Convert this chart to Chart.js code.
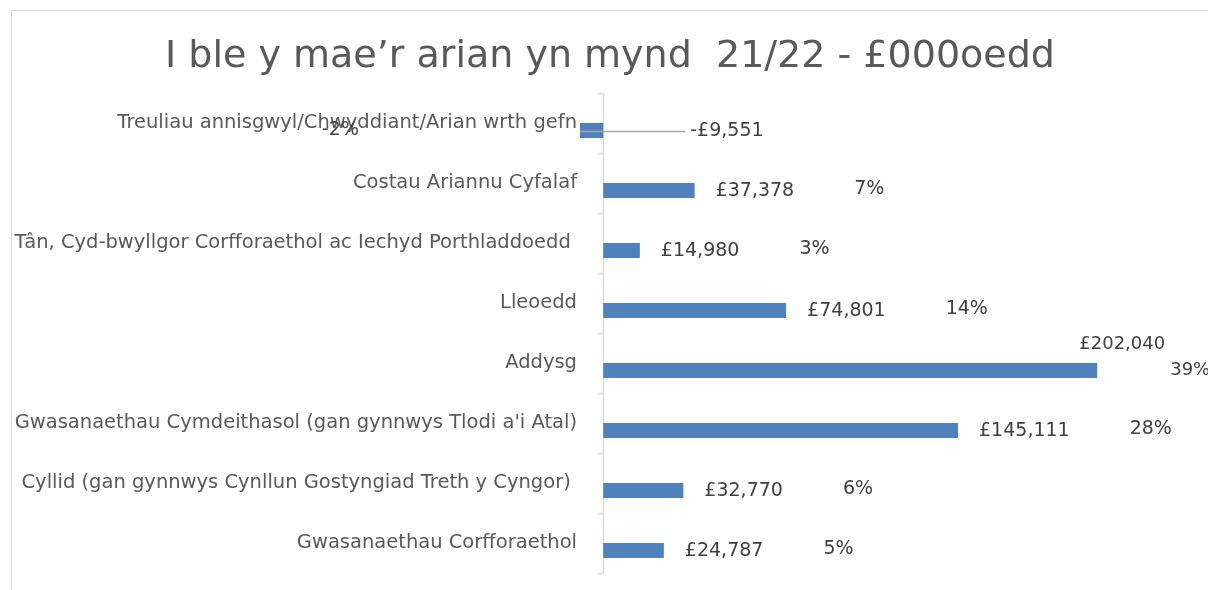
<!DOCTYPE html>
<html>
<head>
<meta charset="utf-8">
<script src="https://cdn.jsdelivr.net/npm/chart.js@4.4.0/dist/chart.umd.min.js"></script>
<style>
html, body { margin: 0; padding: 0; background: #fff; overflow: hidden; }
#frame { position: absolute; left: 11px; top: 10px; width: 1400px; height: 800px;
         border-top: 1px solid #d9d9d9; border-left: 1px solid #d9d9d9; }
#wrap { position: absolute; left: 0; top: 0; width: 1208px; height: 590px; }
</style>
</head>
<body>
<div id="frame"></div>
<div id="wrap"><canvas id="myChart" width="1208" height="590"></canvas></div>
<script>
// categories, top to bottom
var categories = [
  'Treuliau annisgwyl/Chwyddiant/Arian wrth gefn',
  'Costau Ariannu Cyfalaf',
  'Tân, Cyd-bwyllgor Corfforaethol ac Iechyd Porthladdoedd ',
  'Lleoedd',
  'Addysg',
  "Gwasanaethau Cymdeithasol (gan gynnwys Tlodi a'i Atal)",
  'Cyllid (gan gynnwys Cynllun Gostyngiad Treth y Cyngor) ',
  'Gwasanaethau Corfforaethol'
];
// £000s
var amounts = [-9551, 37378, 14980, 74801, 202040, 145111, 32770, 24787];
// share of total, %
var shares = [-2, 7, 3, 14, 39, 28, 6, 5];

var FONT = '"DejaVu Sans", sans-serif';

function money(v) {
  return (v < 0 ? '-' : '') + '£' + Math.abs(v).toLocaleString('en-GB');
}

// axis line at zero with small ticks between categories
var zeroAxis = {
  id: 'zeroAxis',
  beforeDatasetsDraw: function(chart) {
    var ctx = chart.ctx, xs = chart.scales.x, ys = chart.scales.y;
    var x0 = Math.round(xs.getPixelForValue(0)) + 0.5;
    ctx.save();
    ctx.strokeStyle = '#d9d9d9';
    ctx.lineWidth = 1.5;
    ctx.beginPath();
    ctx.moveTo(x0, ys.top);
    ctx.lineTo(x0, ys.bottom);
    var n = categories.length;
    for (var i = 0; i <= n; i++) {
      var y;
      if (i === 0) y = ys.top;
      else if (i === n) y = ys.bottom;
      else y = (ys.getPixelForValue(i - 1) + ys.getPixelForValue(i)) / 2;
      y = Math.round(y) + 0.5;
      ctx.moveTo(x0 - 6, y);
      ctx.lineTo(x0, y);
    }
    ctx.stroke();
    ctx.restore();
  }
};

// value and percent labels
var barLabels = {
  id: 'barLabels',
  afterDatasetsDraw: function(chart) {
    var ctx = chart.ctx, xs = chart.scales.x;
    var meta = chart.getDatasetMeta(1);
    var x0 = xs.getPixelForValue(0);
    var maxV = Math.max.apply(null, amounts);
    ctx.save();
    ctx.font = '19px ' + FONT;
    ctx.fillStyle = '#404040';
    ctx.textBaseline = 'middle';
    meta.data.forEach(function(bar, i) {
      var v = amounts[i], txt = money(v), pct = shares[i] + '%';
      var y = bar.y + 1;
      if (v < 0) {
        ctx.strokeStyle = '#a6a6a6';
        ctx.lineWidth = 1.5;
        ctx.beginPath();
        ctx.moveTo(bar.x, Math.round(bar.y) + 0.5);
        ctx.lineTo(x0 + 82, Math.round(bar.y) + 0.5);
        ctx.stroke();
        ctx.textAlign = 'left';
        ctx.fillText(txt, x0 + 87, y);
        ctx.fillText(pct, xs.left - 258, bar.y);
      } else if (v === maxV) {
        ctx.font = '18px ' + FONT;
        ctx.textAlign = 'center';
        ctx.fillText(txt, bar.x + 25, bar.y - 26);
        ctx.textAlign = 'left';
        ctx.fillText(pct, bar.x + 73, bar.y);
        ctx.font = '19px ' + FONT;
      } else {
        ctx.textAlign = 'left';
        var tx = bar.x + 21;
        ctx.fillText(txt, tx, y);
        ctx.fillText(pct, tx + ctx.measureText(txt).width + 60, bar.y - 1);
      }
    });
    ctx.restore();
  }
};

var ctx = document.getElementById('myChart').getContext('2d');

var myChart = new Chart(ctx, {
  type: 'bar',
  data: {
    labels: categories,
    datasets: [{
      label: '%',
      data: shares,
      backgroundColor: 'rgba(0,0,0,0)',
      barPercentage: 1,
      categoryPercentage: 0.5
    }, {
      label: '£000',
      data: amounts,
      backgroundColor: '#4f81bd',
      barPercentage: 1,
      categoryPercentage: 0.5
    }]
  },
  options: {
    responsive: false,
    animation: false,
    indexAxis: 'y',
    layout: { padding: { left: 12, right: 0, top: 0, bottom: 17 } },
    plugins: {
      legend: { display: false },
      tooltip: { enabled: false },
      title: {
        display: true,
        text: 'I ble y mae’r arian yn mynd  21/22 - £000oedd',
        color: '#595959',
        font: { family: FONT, size: 38, weight: 'normal' },
        padding: { top: 34.4, bottom: 13 }
      }
    },
    scales: {
      x: {
        display: false,
        min: -9500,
        max: 247350
      },
      y: {
        grid: { display: false, drawTicks: false },
        border: { display: false },
        ticks: {
          color: '#595959',
          padding: 3,
          font: { family: FONT, size: 19.5 }
        },
        afterFit: function(scale) { scale.width = 568; }
      }
    }
  },
  plugins: [zeroAxis, barLabels]
});
</script>
</body>
</html>
